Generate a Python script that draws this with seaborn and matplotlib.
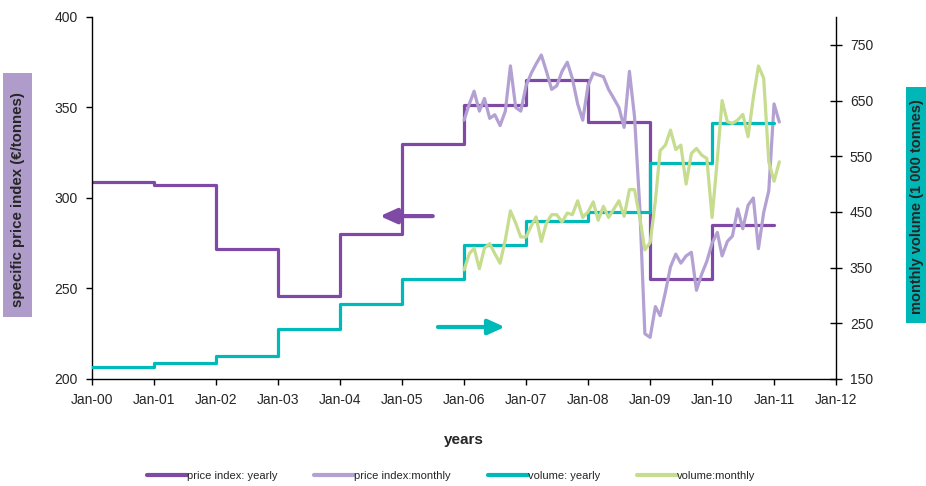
import numpy as np
import pandas as pd
import matplotlib
matplotlib.use("Agg")
import matplotlib.pyplot as plt
from matplotlib.lines import Line2D
from matplotlib.patches import Rectangle
import seaborn as sns

# ---------------- data ----------------
years = list(range(2000, 2011))
price_yearly = [309, 307, 272, 246, 280, 330, 351.5, 365, 342, 255, 285]
volume_yearly = [172, 178, 191, 240, 285, 330, 391, 434, 449, 537, 610]

monthly_start = "2006-01-01"
price_monthly = [343, 352, 359, 348, 355, 344, 346, 340, 348, 373,
                 350, 348, 362, 369, 374, 379, 370, 360, 362, 370,
                 375, 366, 352, 343, 362, 369, 368, 367, 360, 355,
                 350, 339, 370, 345, 295, 225, 223, 240, 235, 248,
                 262, 269, 264, 268, 270, 249, 258, 265, 275, 281,
                 268, 276, 279, 294, 283, 296, 300, 272, 292, 304,
                 352, 342]
volume_monthly = [346, 375, 385, 348, 385, 393, 375, 358, 400, 452,
                  430, 405, 405, 425, 441, 397, 430, 445, 445, 432,
                  448, 445, 470, 440, 450, 468, 435, 460, 440, 455,
                  470, 442, 490, 490, 440, 382, 395, 470, 560, 570,
                  597, 562, 570, 500, 555, 564, 552, 546, 440, 545,
                  650, 612, 609, 615, 625, 585, 655, 712, 690, 540,
                  505, 540]

x_tick_labels = ["Jan-00", "Jan-01", "Jan-02", "Jan-03", "Jan-04", "Jan-05",
                 "Jan-06", "Jan-07", "Jan-08", "Jan-09", "Jan-10", "Jan-11",
                 "Jan-12"]
left_ticks = [200, 250, 300, 350, 400]
right_ticks = [150, 250, 350, 450, 550, 650, 750]

series_labels = ["price index: yearly", "price index:monthly",
                 "volume: yearly", "volume:monthly"]
colors = ["#7f4aa6", "#b3a1d3", "#00baba", "#c6dc8e"]

# ---------------- frames ----------------
y_dates = pd.to_datetime([f"{y}-01-01" for y in years] + [f"{years[-1] + 1}-01-01"])
df_py = pd.DataFrame({"date": y_dates, "value": price_yearly + [price_yearly[-1]]})
df_vy = pd.DataFrame({"date": y_dates, "value": volume_yearly + [volume_yearly[-1]]})
m_dates = pd.date_range(monthly_start, periods=len(price_monthly), freq="MS")
df_pm = pd.DataFrame({"date": m_dates, "value": price_monthly})
df_vm = pd.DataFrame({"date": m_dates, "value": volume_monthly})

# ---------------- figure ----------------
sns.set_theme(style="white")
plt.rcParams["font.family"] = ["Liberation Sans", "DejaVu Sans"]

W, H = 926, 486
fig = plt.figure(figsize=(W / 100, H / 100), dpi=100)
ax = fig.add_axes([92 / W, 1 - 379 / H, 744 / W, 362 / H])
ax2 = ax.twinx()

lw = 2.3
sns.lineplot(data=df_py, x="date", y="value", ax=ax, color=colors[0], lw=lw,
             drawstyle="steps-post", label=series_labels[0], legend=False)
sns.lineplot(data=df_pm, x="date", y="value", ax=ax, color=colors[1], lw=lw,
             label=series_labels[1], legend=False)
sns.lineplot(data=df_vy, x="date", y="value", ax=ax2, color=colors[2], lw=lw,
             drawstyle="steps-post", label=series_labels[2], legend=False)
sns.lineplot(data=df_vm, x="date", y="value", ax=ax2, color=colors[3], lw=lw,
             label=series_labels[3], legend=False)

tick_dates = pd.to_datetime([f"{y}-01-01" for y in range(2000, 2013)])
ax.set_xlim(tick_dates[0], tick_dates[-1])
ax.set_xticks(tick_dates)
ax.set_xticklabels(x_tick_labels)
ax.set_ylim(200, 400)
ax.set_yticks(left_ticks)
ax2.set_ylim(150, 800)
ax2.set_yticks(right_ticks)

ax.set_xlabel("")
ax.set_ylabel("")
ax2.set_ylabel("")

for a in (ax, ax2):
    for s in a.spines.values():
        s.set_visible(False)
ax.spines["left"].set_visible(True)
ax.spines["bottom"].set_visible(True)
ax2.spines["right"].set_visible(True)
for s in (ax.spines["left"], ax.spines["bottom"], ax2.spines["right"]):
    s.set_color("#000000")
    s.set_linewidth(1.0)

ax.tick_params(axis="x", direction="out", length=4, width=1, color="black",
               labelsize=10, pad=6, bottom=True)
ax.tick_params(axis="y", direction="out", length=4, width=1, color="black",
               labelsize=10, pad=6, left=True)
ax2.tick_params(axis="y", direction="inout", length=8, width=1, color="black",
                labelsize=10, pad=6, right=True)

# arrows
ax.annotate("", xy=(0.387, 0.450), xytext=(0.458, 0.450), xycoords="axes fraction",
            arrowprops=dict(arrowstyle="-|>,head_length=1.0,head_width=0.45",
                            lw=3, color=colors[0], shrinkA=0, shrinkB=0,
                            mutation_scale=10))
ax.annotate("", xy=(0.555, 0.1436), xytext=(0.465, 0.1436), xycoords="axes fraction",
            arrowprops=dict(arrowstyle="-|>,head_length=1.0,head_width=0.45",
                            lw=3, color=colors[2], shrinkA=0, shrinkB=0,
                            mutation_scale=10))

# axis titles with coloured boxes
fig.patches.append(Rectangle((3 / W, 1 - 317 / H), 29 / W, 244 / H,
                             transform=fig.transFigure, fc="#b09ccb", ec="none",
                             zorder=0))
fig.patches.append(Rectangle((906 / W, 1 - 323 / H), 30 / W, 236 / H,
                             transform=fig.transFigure, fc="#00b7b7", ec="none",
                             zorder=0))
fig.text(18.5 / W, 1 - 200 / H, "specific price index (€/tonnes)", rotation=90,
         ha="center", va="center", fontsize=10.8, fontweight="bold")
fig.text(916.5 / W, 1 - 207 / H, "monthly volume (1 000 tonnes)", rotation=90,
         ha="center", va="center", fontsize=10.5, fontweight="bold")
fig.text(464 / W, 1 - 440 / H, "years", ha="center", va="center",
         fontsize=11, fontweight="bold")

leg_handles = [Line2D([], [], color=c, lw=3) for c in colors]
fig.legend(leg_handles, series_labels, loc="center",
           bbox_to_anchor=(451 / W, 1 - 476 / H), ncol=4, frameon=False,
           fontsize=8, handlelength=3.6, handletextpad=0.0, columnspacing=3.3)

fig.savefig("out.png", dpi=100)
